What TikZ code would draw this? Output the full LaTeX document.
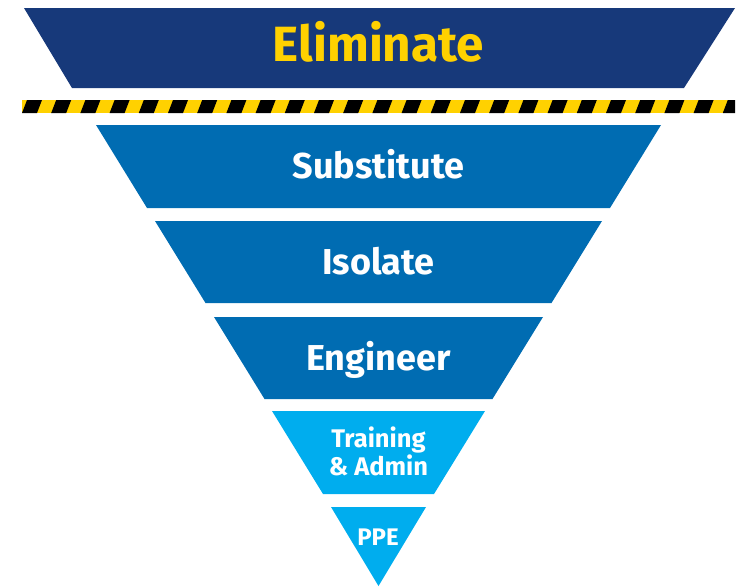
\documentclass[tikz,border=0pt]{standalone}
\usepackage{fontspec}
\setmainfont{Fira Sans}
\definecolor{navy}{RGB}{23,57,122}
\definecolor{midblue}{RGB}{0,108,178}
\definecolor{skyblue}{RGB}{0,173,238}
\definecolor{hazard}{RGB}{255,209,0}

\begin{document}
\begin{tikzpicture}[x=1pt, y=-1pt,
  lbl/.style={text=white, anchor=base, inner sep=0pt, font=\bfseries\fontsize{36}{40}\selectfont},
  small/.style={text=white, inner sep=0pt, align=center, font=\bfseries\fontsize{25.5}{28}\selectfont}]
\useasboundingbox (0,0) rectangle (738,587);
\fill[navy] (24,8) -- (735,8) -- (684,88) -- (72,88) -- cycle;
\node[anchor=base, inner sep=0pt, text=hazard, font=\bfseries\fontsize{49.5}{52}\selectfont] (elim) at (378.5,61) {Eliminate};
\begin{scope}
\clip (22,100) rectangle (735,113);
\fill[hazard] (22,100) rectangle (735,113);
\foreach \i in {0,...,24}
  \fill[black] (22+29.2*\i,113) -- ++(15,0) -- ++(5,-13) -- ++(-15,0) -- cycle;
\end{scope}
\fill[midblue] (96,125) -- (661,125) -- (610,208) -- (147,208) -- cycle;
\fill[midblue] (155,221) -- (602,221) -- (551.5,303) -- (205.5,303) -- cycle;
\fill[midblue] (214,317) -- (543,317) -- (492.5,399) -- (264.5,399) -- cycle;
\fill[skyblue] (272,411) -- (485,411) -- (434,494) -- (323,494) -- cycle;
\fill[skyblue] (331,507) -- (426,507) -- (378.5,586) -- cycle;
\node[lbl] (subst) at (378.5,178) {Substitute};
\node[lbl] (isol) at (378.5,274) {Isolate};
\node[lbl] (eng) at (378.5,370) {Engineer};
\node[small] (train) at (378.5,451) {Training\\ \& Admin};
\node[small, anchor=base, font=\bfseries\fontsize{24}{26}\selectfont] (ppe) at (378,545) {PPE};
\end{tikzpicture}
\end{document}
